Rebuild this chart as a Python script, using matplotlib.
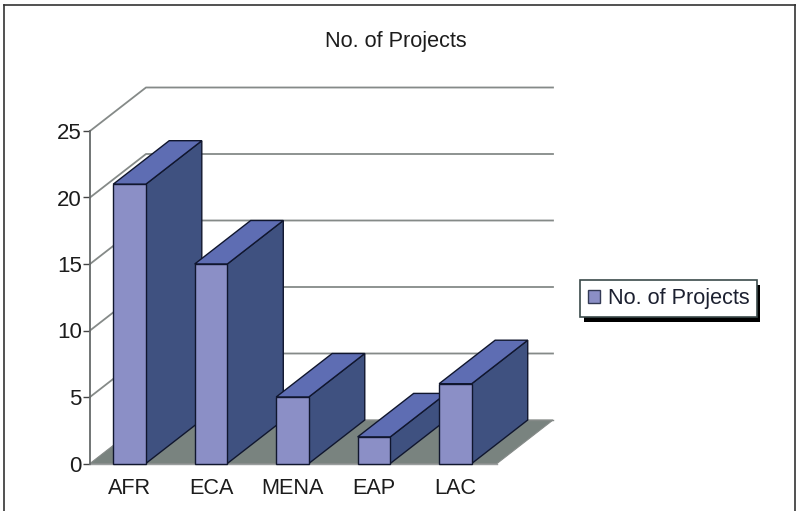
import matplotlib
matplotlib.use("Agg")
import matplotlib.pyplot as plt
from matplotlib.patches import Patch, Polygon, Rectangle
from matplotlib.lines import Line2D

plt.rcParams['font.family'] = ['Liberation Sans', 'DejaVu Sans']

# Values
categories = ["AFR", "ECA", "MENA", "EAP", "LAC"]
projects = [21, 15, 5, 2, 6]
y_ticks = [0, 5, 10, 15, 20, 25]
chart_title = "No. of Projects"

W, H = 796, 511
front_col = "#8b8fc6"
top_col = "#5e6db3"
side_col = "#3f5180"
floor_col = "#79837f"
grid_col = "#858a88"
edge_col = "#10162e"

fig = plt.figure(figsize=(W / 100, H / 100), dpi=100)

# Axes sits on the front plane of the fake 3D box
left, right, top, bottom = 90, 497, 131, 463.5
ax = fig.add_axes([left / W, 1 - bottom / H, (right - left) / W, (bottom - top) / H])
ax.set_xlim(-0.485, 4.51)
ax.set_ylim(0, 25)
ax.patch.set_visible(False)

# Depth offset of the back wall, in data units
dep_x = 56 / 81.5
dep_y = 43.5 / 13.3
bar_w = 0.4

x0, x1 = ax.get_xlim()

# Floor
ax.add_patch(Polygon([(x0, 0), (x0 + dep_x, dep_y), (x1 + dep_x, dep_y), (x1, 0)],
                     facecolor=floor_col, edgecolor=grid_col, lw=0.8, clip_on=False, zorder=1))

# Grid lines on the left and back walls
for t in y_ticks:
    if t > 0:
        ax.add_line(Line2D([x0, x0 + dep_x, x1 + dep_x], [t, t + dep_y, t + dep_y],
                           color=grid_col, lw=1.3, clip_on=False, zorder=1))
ax.add_line(Line2D([x0 + dep_x, x1 + dep_x], [dep_y, dep_y], color=grid_col, lw=1.0, clip_on=False, zorder=1))

# Bars, left to right so the later ones cover the earlier ones
for i, v in enumerate(projects):
    a = i - bar_w / 2
    b = i + bar_w / 2
    z = 3 + i
    ax.add_patch(Polygon([(b, 0), (b + dep_x, dep_y), (b + dep_x, v + dep_y), (b, v)],
                         facecolor=side_col, edgecolor=edge_col, lw=1.0, clip_on=False, zorder=z))
    ax.add_patch(Polygon([(a, v), (a + dep_x, v + dep_y), (b + dep_x, v + dep_y), (b, v)],
                         facecolor=top_col, edgecolor=edge_col, lw=1.0, clip_on=False, zorder=z))
    ax.add_patch(Rectangle((a, 0), bar_w, v, facecolor=front_col, edgecolor=edge_col,
                           lw=1.0, clip_on=False, zorder=z))

# Axes
for s in ["top", "right"]:
    ax.spines[s].set_visible(False)
ax.spines["left"].set_color("#666a6a")
ax.spines["left"].set_linewidth(1.3)
ax.spines["bottom"].set_color("#9a9e9e")
ax.spines["bottom"].set_linewidth(1.0)
ax.spines["bottom"].set_zorder(2)
ax.set_yticks(y_ticks)
ax.set_xticks(range(len(categories)))
ax.set_xticklabels(categories)
ax.tick_params(axis="y", length=5, width=1.0, color="#444444", labelsize=16, pad=1, labelcolor="#1c1c1c")
ax.tick_params(axis="x", length=0, labelsize=15.6, pad=10.5, labelcolor="#1c1c1c")

fig.text(396 / W, 1 - 42 / H, chart_title, ha="center", va="center", fontsize=15.6, color="#1c1c1c")

# Legend, its hard black shadow is a plain rectangle behind it
fig.add_artist(Rectangle((584 / W, 1 - 322 / H), 176 / W, 37 / H, transform=fig.transFigure,
                         facecolor="black", edgecolor="none", zorder=4))
handle = Patch(facecolor=front_col, edgecolor="#333a55", lw=1.0, label=chart_title)
leg = fig.legend(handles=[handle], loc="center left", bbox_to_anchor=(580 / W, 1 - 298.5 / H),
                 fontsize=15.6, fancybox=False, edgecolor="#3b4a4a", framealpha=1,
                 handlelength=0.55, handleheight=0.55, handletextpad=0.4,
                 borderpad=0.35, borderaxespad=0, labelcolor="#1c2030")
leg.set_zorder(5)
leg.get_frame().set_linewidth(1.2)

# Outer frame of the scanned figure
for xs, ys in [([4, 4], [5, H]), ([4, W], [5, 5]), ([W - 1, W - 1], [5, H])]:
    fig.add_artist(Line2D([x / W for x in xs], [1 - y / H for y in ys], color="#333333", lw=1.2))

fig.savefig("out.png", dpi=100)
